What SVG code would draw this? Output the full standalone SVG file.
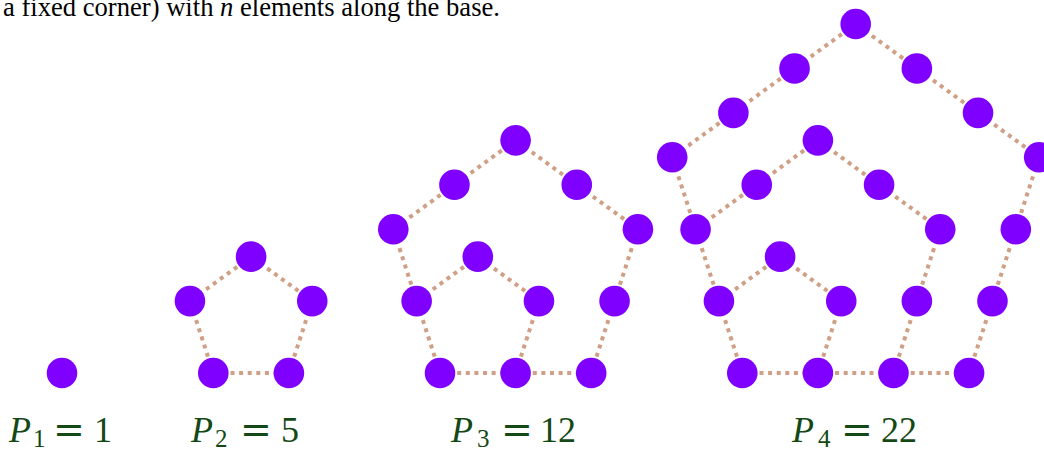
<svg xmlns="http://www.w3.org/2000/svg" width="1044" height="449" viewBox="0 0 1044 449">
<style>
.dot{fill:#7f00ff}
.con{fill:none;stroke:#cf9f86;stroke-width:4;stroke-dasharray:4 4.6}
.lbl{font-family:"Liberation Serif",serif;font-size:36px;fill:#144814}
.it{font-style:italic}
.sub{font-size:25px}
.eq{font-family:"DejaVu Sans",sans-serif;font-size:38px}
.cap{font-family:"Liberation Serif",serif;font-size:26.6px;fill:#000}
</style>
<rect width="1044" height="449" fill="#fff"/>
<text class="cap" x="3" y="16">a fixed corner) with <tspan font-style="italic">n</tspan> elements along the base.</text>

<g id="P1" transform="translate(62,373)">
<circle id="p1d1" class="dot" cx="0" cy="0" r="15.3"/>
</g>

<g id="P2" transform="translate(213.3,373)">
<g id="P2-connectors">
<path class="con" d="M0,0L75.6,0 M75.6,0L98.962,-71.9 M98.962,-71.9L37.8,-116.336 M37.8,-116.336L-23.362,-71.9 M0,0L-23.362,-71.9"/>
</g>
<g id="P2-nodes">
<circle class="dot" cx="0" cy="0" r="15.3"/>
<circle class="dot" cx="75.6" cy="0" r="15.3"/>
<circle class="dot" cx="98.962" cy="-71.9" r="15.3"/>
<circle class="dot" cx="37.8" cy="-116.336" r="15.3"/>
<circle class="dot" cx="-23.362" cy="-71.9" r="15.3"/>
</g>
</g>

<g id="P3" transform="translate(440,373)">
<g id="P3-connectors">
<path class="con" d="M0,0L75.6,0 M75.6,0L151.2,0 M0,0L-23.362,-71.9 M-23.362,-71.9L-46.724,-143.8 M75.6,0L98.962,-71.9 M98.962,-71.9L37.8,-116.336 M37.8,-116.336L-23.362,-71.9 M151.2,0L174.562,-71.9 M174.562,-71.9L197.924,-143.8 M197.924,-143.8L136.762,-188.237 M136.762,-188.237L75.6,-232.672 M75.6,-232.672L14.438,-188.237 M14.438,-188.237L-46.724,-143.8"/>
</g>
<g id="P3-nodes">
<circle class="dot" cx="0" cy="0" r="15.3"/>
<circle class="dot" cx="75.6" cy="0" r="15.3"/>
<circle class="dot" cx="151.2" cy="0" r="15.3"/>
<circle class="dot" cx="-23.362" cy="-71.9" r="15.3"/>
<circle class="dot" cx="-46.724" cy="-143.8" r="15.3"/>
<circle class="dot" cx="98.962" cy="-71.9" r="15.3"/>
<circle class="dot" cx="37.8" cy="-116.336" r="15.3"/>
<circle class="dot" cx="174.562" cy="-71.9" r="15.3"/>
<circle class="dot" cx="197.924" cy="-143.8" r="15.3"/>
<circle class="dot" cx="136.762" cy="-188.237" r="15.3"/>
<circle class="dot" cx="75.6" cy="-232.672" r="15.3"/>
<circle class="dot" cx="14.438" cy="-188.237" r="15.3"/>
</g>
</g>

<g id="P4" transform="translate(742.3,373)">
<g id="P4-connectors">
<path class="con" d="M0,0L75.6,0 M75.6,0L151.2,0 M151.2,0L226.8,0 M0,0L-23.362,-71.9 M-23.362,-71.9L-46.724,-143.8 M-46.724,-143.8L-70.086,-215.7 M75.6,0L98.962,-71.9 M98.962,-71.9L37.8,-116.336 M37.8,-116.336L-23.362,-71.9 M151.2,0L174.562,-71.9 M174.562,-71.9L197.924,-143.8 M197.924,-143.8L136.762,-188.237 M136.762,-188.237L75.6,-232.672 M75.6,-232.672L14.438,-188.237 M14.438,-188.237L-46.724,-143.8 M226.8,0L250.162,-71.9 M250.162,-71.9L273.524,-143.8 M273.524,-143.8L296.886,-215.7 M296.886,-215.7L235.724,-260.137 M235.724,-260.137L174.562,-304.574 M174.562,-304.574L113.4,-349.008 M113.4,-349.008L52.238,-304.574 M52.238,-304.574L-8.924,-260.137 M-8.924,-260.137L-70.086,-215.7"/>
</g>
<g id="P4-nodes">
<circle class="dot" cx="0" cy="0" r="15.3"/>
<circle class="dot" cx="75.6" cy="0" r="15.3"/>
<circle class="dot" cx="151.2" cy="0" r="15.3"/>
<circle class="dot" cx="226.8" cy="0" r="15.3"/>
<circle class="dot" cx="-23.362" cy="-71.9" r="15.3"/>
<circle class="dot" cx="-46.724" cy="-143.8" r="15.3"/>
<circle class="dot" cx="-70.086" cy="-215.7" r="15.3"/>
<circle class="dot" cx="98.962" cy="-71.9" r="15.3"/>
<circle class="dot" cx="37.8" cy="-116.336" r="15.3"/>
<circle class="dot" cx="174.562" cy="-71.9" r="15.3"/>
<circle class="dot" cx="197.924" cy="-143.8" r="15.3"/>
<circle class="dot" cx="136.762" cy="-188.237" r="15.3"/>
<circle class="dot" cx="75.6" cy="-232.672" r="15.3"/>
<circle class="dot" cx="14.438" cy="-188.237" r="15.3"/>
<circle class="dot" cx="250.162" cy="-71.9" r="15.3"/>
<circle class="dot" cx="273.524" cy="-143.8" r="15.3"/>
<circle class="dot" cx="296.886" cy="-215.7" r="15.3"/>
<circle class="dot" cx="235.724" cy="-260.137" r="15.3"/>
<circle class="dot" cx="174.562" cy="-304.574" r="15.3"/>
<circle class="dot" cx="113.4" cy="-349.008" r="15.3"/>
<circle class="dot" cx="52.238" cy="-304.574" r="15.3"/>
<circle class="dot" cx="-8.924" cy="-260.137" r="15.3"/>
</g>
</g>

<g id="labels">
<text class="lbl" y="442"><tspan class="it" x="9">P</tspan><tspan class="sub" x="33" dy="5">1</tspan><tspan class="eq" x="53" dy="-5">=</tspan><tspan x="94">1</tspan></text>
<text class="lbl" y="442"><tspan class="it" x="191">P</tspan><tspan class="sub" x="215" dy="5">2</tspan><tspan class="eq" x="240" dy="-5">=</tspan><tspan x="281">5</tspan></text>
<text class="lbl" y="442"><tspan class="it" x="451">P</tspan><tspan class="sub" x="477" dy="5">3</tspan><tspan class="eq" x="501" dy="-5">=</tspan><tspan x="540">12</tspan></text>
<text class="lbl" y="442"><tspan class="it" x="792">P</tspan><tspan class="sub" x="818" dy="5">4</tspan><tspan class="eq" x="841" dy="-5">=</tspan><tspan x="881">22</tspan></text>
</g>
</svg>
